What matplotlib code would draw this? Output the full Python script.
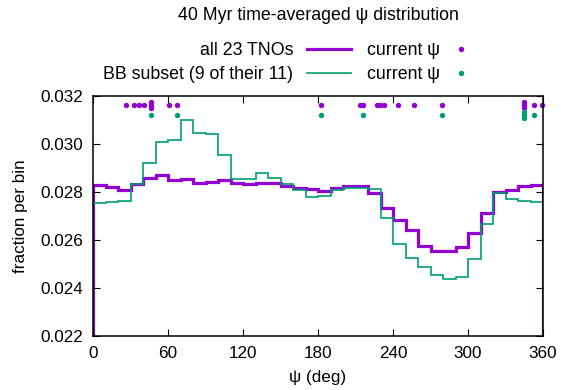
import numpy as np
import matplotlib
matplotlib.use("Agg")
import matplotlib.pyplot as plt
from matplotlib.lines import Line2D

plt.rcParams["font.family"] = ["Liberation Sans", "DejaVu Sans"]
plt.rcParams["font.size"] = 12.3

# 10-degree bins over psi
bin_edges = np.arange(0, 361, 10)

all_tnos = [
    0.02829, 0.02821, 0.02810, 0.02832, 0.02860, 0.02870, 0.02849, 0.02854, 0.02836,
    0.02842, 0.02848, 0.02838, 0.02832, 0.02839, 0.02836, 0.02827, 0.02817, 0.02811,
    0.02804, 0.02815, 0.02823, 0.02823, 0.02796, 0.02733, 0.02684, 0.02643, 0.02574,
    0.02554, 0.02553, 0.02571, 0.02630, 0.02714, 0.02799, 0.02810, 0.02824, 0.02831,
]
bb_subset = [
    0.02756, 0.02758, 0.02762, 0.02833, 0.02922, 0.03007, 0.03018, 0.03101, 0.03046,
    0.03043, 0.02954, 0.02855, 0.02853, 0.02878, 0.02860, 0.02832, 0.02808, 0.02779,
    0.02783, 0.02810, 0.02818, 0.02815, 0.02813, 0.02690, 0.02585, 0.02527, 0.02489,
    0.02456, 0.02436, 0.02446, 0.02521, 0.02667, 0.02797, 0.02771, 0.02762, 0.02758,
]

# current psi of each object (deg)
psi_all = [26.4, 33.0, 36.8, 40.6, 46.6, 46.6, 46.6, 60.8, 67.4, 182.0, 213.6, 215.8,
           227.5, 229.6, 233.0, 243.8, 256.8, 279.0, 345.0, 345.0, 345.0, 353.0, 359.5]
psi_bb = [46.6, 67.4, 182.0, 215.8, 279.0, 345.0, 345.0, 345.0, 353.0]

PURPLE = "#9400d3"
GREEN = "#009e73"


def stacked_y(values, base, step=0.00013):
    # duplicates are stacked vertically around the base level
    ys = []
    for i, v in enumerate(values):
        n = values.count(v)
        k = values[:i].count(v)
        ys.append(base + (k - (n - 1) / 2) * step)
    return ys


fig = plt.figure(figsize=(5.61, 3.90), dpi=100)
ax = fig.add_axes([93 / 561, 1 - 336 / 390, 450 / 561, 240 / 390])

ax.stairs(all_tnos, bin_edges, baseline=0.022, color=PURPLE, linewidth=2.3)
ax.stairs(bb_subset, bin_edges, baseline=0.022, color=GREEN, linewidth=1.2)

ax.plot(psi_all, stacked_y(psi_all, 0.03163), "o", color=PURPLE, markersize=3.9,
        markeredgewidth=0, clip_on=False)
ax.plot(psi_bb, stacked_y(psi_bb, 0.03122), "o", color=GREEN, markersize=3.9,
        markeredgewidth=0, clip_on=False)

ax.set_xlim(0, 360)
ax.set_ylim(0.022, 0.032)
ax.set_xticks(np.arange(0, 361, 60))
ax.set_yticks(np.arange(0.022, 0.0321, 0.002))
ax.set_yticklabels([f"{v:.3f}" for v in np.arange(0.022, 0.0321, 0.002)])
ax.tick_params(direction="in", top=True, right=True, length=5, width=0.8,
               labelsize=12.3, pad=7)
for s in ax.spines.values():
    s.set_linewidth(1.1)

ax.set_xlabel("ψ (deg)", labelpad=7)
ax.set_ylabel("fraction per bin", labelpad=9)
fig.text(318 / 561, 1 - 15 / 390, "40 Myr time-averaged ψ distribution",
         ha="center", va="center", fontsize=12.8)

line_handles = [Line2D([], [], color=PURPLE, linewidth=2.3),
                Line2D([], [], color=GREEN, linewidth=1.2)]
leg1 = fig.legend(line_handles, ["all 23 TNOs", "BB subset (9 of their 11)"],
                  markerfirst=False, frameon=False, handlelength=2.5,
                  handletextpad=0.75, labelspacing=0.38, fontsize=12.8,
                  loc="upper right", bbox_to_anchor=(351 / 561, 1 - 42 / 390),
                  borderaxespad=0, borderpad=0)
dot_handles = [Line2D([], [], color=PURPLE, marker="o", linestyle="", markersize=3.9,
                      markeredgewidth=0),
               Line2D([], [], color=GREEN, marker="o", linestyle="", markersize=3.9,
                      markeredgewidth=0)]
leg2 = fig.legend(dot_handles, ["current ψ", "current ψ"],
                  markerfirst=False, frameon=False, handlelength=1.0,
                  handletextpad=0.7, labelspacing=0.38, fontsize=12.8,
                  loc="upper left", bbox_to_anchor=(367 / 561, 1 - 42 / 390),
                  borderaxespad=0, borderpad=0)

fig.savefig("out.png", dpi=100)
